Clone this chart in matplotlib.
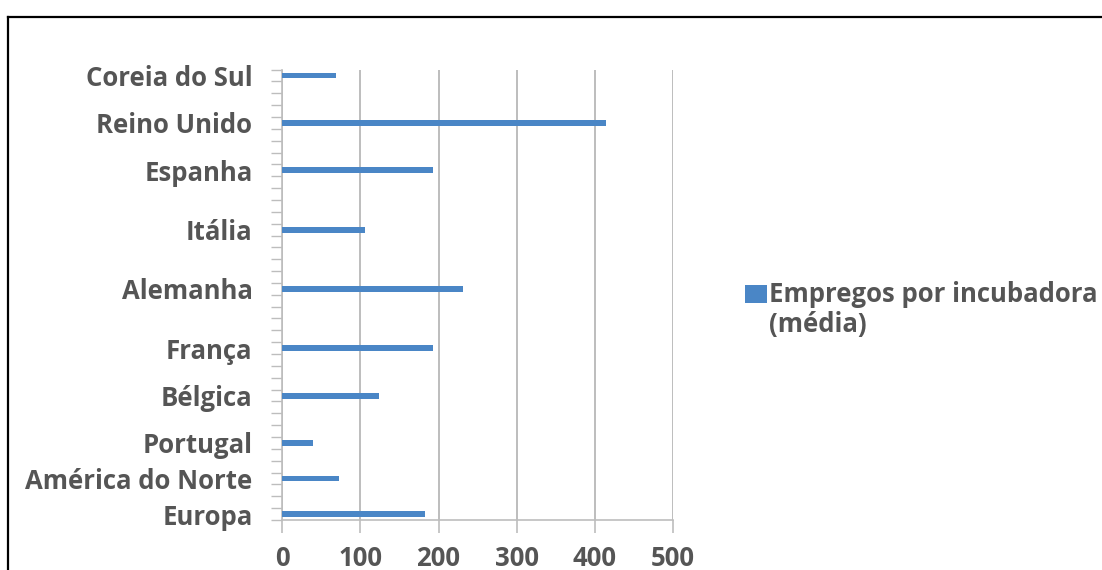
import matplotlib
matplotlib.use("Agg")
import matplotlib.pyplot as plt
from matplotlib.lines import Line2D
from matplotlib.patches import Rectangle

# Data (bottom to top)
countries = ["Europa", "América do Norte", "Portugal", "Bélgica", "França",
             "Alemanha", "Itália", "Espanha", "Reino Unido", "Coreia do Sul"]
jobs_per_incubator = [183, 73, 39, 124, 193, 231, 106, 193, 414, 68]
x_ticks = [0, 100, 200, 300, 400, 500]
series_label = "Empregos por incubadora\n(média)"

# Category rows on a 38-slot axis (gaps between groups are empty rows)
row_slots = [0, 3, 6, 10, 14, 19, 24, 29, 33, 37]
n_slots = 38

BAR = "#4a86c6"
GRID = "#bdbdbd"
TEXT = "#555555"
FONT = "Open Sans"
FS = 18.5

plt.rcParams["font.family"] = [FONT, "DejaVu Sans"]

W, H = 1102, 570
fig = plt.figure(figsize=(W / 100, H / 100), dpi=100)
ax = fig.add_axes([0.2563, 0.0877, 0.6104 - 0.2563, 0.878 - 0.0877])

ypos = [s + 0.5 for s in row_slots]
ax.barh(ypos, jobs_per_incubator, height=0.5, color=BAR,
        label=series_label, zorder=3)

ax.set_xlim(0, 500)
ax.set_ylim(0, n_slots)

ax.set_xticks(x_ticks)
ax.set_xticklabels([str(v) for v in x_ticks])
ax.xaxis.grid(True, color=GRID, linewidth=1.4, zorder=0)
ax.tick_params(axis="x", length=9, width=1.2, color=GRID, pad=9,
               labelsize=FS, labelcolor=TEXT)
for lbl in ax.get_xticklabels():
    lbl.set_fontweight("bold")

ax.set_yticks(ypos)
ax.set_yticklabels(countries)
ax.set_yticks(range(n_slots + 1), minor=True)
ax.tick_params(axis="y", which="major", length=0, pad=21.6,
               labelsize=FS, labelcolor=TEXT)
ax.tick_params(axis="y", which="minor", length=8, width=1.0, color=GRID)
for lbl in ax.get_yticklabels():
    lbl.set_fontweight("bold")

for side in ("top", "right"):
    ax.spines[side].set_visible(False)
for side in ("left", "bottom"):
    ax.spines[side].set_color(GRID)
    ax.spines[side].set_linewidth(1.2)

# Series key: colour swatch next to the two-line label
fig.add_artist(Rectangle((745 / W, 1 - 303 / H), 22 / W, 18 / H,
                         transform=fig.transFigure, facecolor=BAR,
                         edgecolor="none"))
fig.text(769 / W, 1 - 281 / H, series_label, ha="left", va="top",
         fontsize=FS, fontweight="bold", color=TEXT, linespacing=1.15)

# Outer black frame (top and left edges)
fig.add_artist(Line2D([8 / W, 1.0], [1 - 17 / H, 1 - 17 / H],
                      transform=fig.transFigure, color="black", linewidth=1.6))
fig.add_artist(Line2D([8 / W, 8 / W], [0.0, 1 - 17 / H],
                      transform=fig.transFigure, color="black", linewidth=1.6))

fig.savefig("out.png", dpi=100)
